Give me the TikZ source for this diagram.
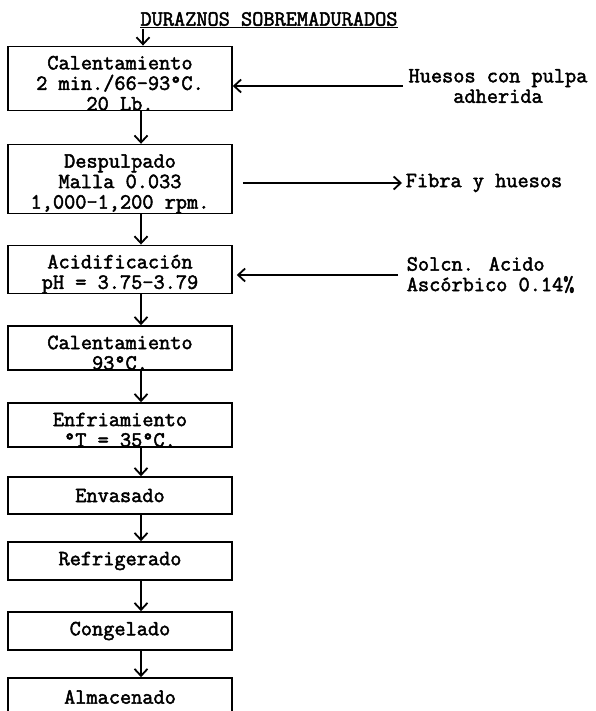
\documentclass[tikz,border=0pt]{standalone}
\usepackage{fontspec}
\usepackage{tikz}
\usetikzlibrary{arrows.meta}
\newfontfamily\maquina[FakeBold=2.2]{Latin Modern Mono}
\newcommand\alto{\rule{0pt}{23pt}}

\tikzset{
	paso/.style={draw, minimum width=224pt, inner sep=0pt, align=center},
	nota/.style={inner sep=0pt, align=left},
}

\begin{document}
\begin{tikzpicture}[x=1pt, y=-1pt, >={Straight Barb[length=7pt,width=13pt,line width=1.8pt]}, line width=1.6pt, font=\maquina\fontsize{21.7}{20.5}\selectfont]
		\useasboundingbox (0,0) rectangle (595,711);
		% materia prima
		\node[inner sep=0pt] (titulo) at (269,20) {\underline{DURAZNOS SOBREMADURADOS}};
		% pasos del proceso
		\node[paso, minimum height=63pt] (cal1) at (120,78.5) {\alto Calentamiento\\2 min./66-93°C.\\20 Lb.};
		\node[paso, minimum height=68pt] (desp) at (120,179) {\alto Despulpado\\Malla 0.033\\1,000-1,200 rpm.};
		\node[paso, minimum height=43pt] (acid) at (120,269.5) {\alto Acidificación\\pH = 3.75-3.79};
		\node[paso, minimum height=44pt] (cal2) at (120,348) {\alto Calentamiento\\93°C.};
		\node[paso, minimum height=44pt] (enfr) at (120,425) {\alto Enfriamiento\\°T = 35°C.};
		\node[paso, minimum height=37pt] (env) at (120,495.5) {Envasado};
		\node[paso, minimum height=38pt] (refr) at (120,561) {Refrigerado};
		\node[paso, minimum height=38pt] (cong) at (120,631) {Congelado};
		\node[paso, minimum height=38pt] (alm) at (120,697) {Almacenado};
		% flujo principal
		\draw[->] ([xshift=23pt]cal1.north |- titulo.south) -- ([xshift=23pt]cal1.north);
		\foreach \a/\b in {cal1/desp, desp/acid, acid/cal2, cal2/enfr, enfr/env, env/refr, refr/cong, cong/alm}
			\draw[->] ([xshift=21pt]\a.south) -- ([xshift=21pt]\b.north);
		% entradas y salidas laterales
		\node[nota, align=center] (huesos) at (498,86) {Huesos con pulpa\\adherida};
		\draw[->] ([xshift=-5pt]huesos.west) -- (huesos.west -| cal1.east);
		\node[nota, anchor=west] (fibra) at (405,183) {Fibra y huesos};
		\draw[->] ([xshift=10pt]desp.east |- fibra.west) -- ([xshift=-3pt]fibra.west);
		\node[nota, anchor=west] (solcn) at (406,275) {Solcn. Acido\\Ascórbico 0.14\%};
		\draw[->] ([xshift=-8pt]solcn.west) -- ([xshift=4pt]acid.east |- solcn.west);
	\end{tikzpicture}
\end{document}
